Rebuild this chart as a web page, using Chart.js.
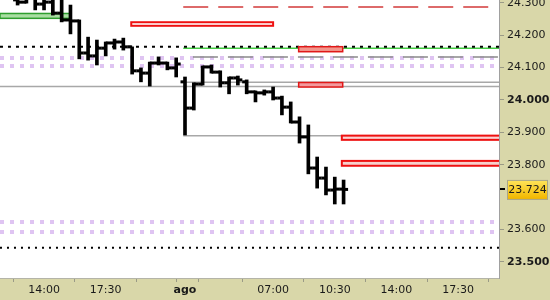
<!DOCTYPE html>
<html>
<head>
<meta charset="utf-8">
<script src="https://cdn.jsdelivr.net/npm/chart.js@4.4.1/dist/chart.umd.min.js"></script>
<style>
  html, body { margin: 0; padding: 0; background: #d9d7a9; }
  #wrap { width: 550px; height: 300px; }
</style>
</head>
<body>
<div id="wrap"><canvas id="chart" width="550" height="300"></canvas></div>
<script>
// barras de 30 minutos, indice 0 = primera barra visible
const opens  = [24.309, 24.302, 24.315, 24.296, 24.302, 24.268, 24.247, 24.244, 24.145, 24.136,
                24.160, 24.176, 24.179, 24.164, 24.090, 24.083, 24.114, 24.114, 24.099, 24.056,
                23.975, 24.049, 24.102, 24.086, 24.053, 24.068, 24.056, 24.025, 24.022, 24.025,
                24.006, 23.978, 23.932, 23.886, 23.790, 23.759, 23.722, 23.725];
const highs  = [24.327, 24.333, 24.321, 24.315, 24.312, 24.312, 24.293, 24.247, 24.194, 24.185,
                24.179, 24.188, 24.191, 24.164, 24.099, 24.117, 24.133, 24.117, 24.130, 24.071,
                24.053, 24.105, 24.108, 24.090, 24.071, 24.074, 24.062, 24.028, 24.031, 24.040,
                24.012, 23.994, 23.948, 23.923, 23.824, 23.793, 23.762, 23.753];
const lows   = [24.293, 24.299, 24.278, 24.278, 24.262, 24.241, 24.204, 24.127, 24.123, 24.108,
                24.136, 24.157, 24.154, 24.080, 24.056, 24.043, 24.108, 24.093, 24.071, 23.892,
                23.969, 24.046, 24.083, 24.040, 24.019, 24.046, 24.019, 23.994, 24.015, 24.000,
                23.954, 23.929, 23.867, 23.772, 23.728, 23.707, 23.679, 23.679];
const closes = [24.302, 24.315, 24.296, 24.302, 24.268, 24.247, 24.244, 24.145, 24.136, 24.160,
                24.176, 24.179, 24.164, 24.090, 24.083, 24.114, 24.114, 24.099, 24.111, 23.975,
                24.049, 24.102, 24.086, 24.053, 24.068, 24.062, 24.025, 24.022, 24.025, 24.006,
                23.978, 23.932, 23.886, 23.790, 23.759, 23.722, 23.725, 23.724];

const xTickIdx    = [3, 10, 17, 19, 22, 29, 36, 43, 50];
const xTickLabels = ['14:00', '17:30', '', 'ago', '', '07:00', '10:30', '14:00', '17:30'];
const yTicks = [23.5, 23.6, 23.8, 23.9, 24.0, 24.1, 24.2, 24.3];
const yBold  = [23.5, 24.0];
const lastPrice = 23.724;

// zonas (rectangulos): techo, suelo, desde barra, hasta barra
const zoneTops    = [24.267, 24.240, 24.1645, 24.054, 23.890, 23.812];
const zoneBottoms = [24.252, 24.229, 24.149,  24.040, 23.877, 23.797];
const zoneFrom    = [-2, 12.9, 31.9, 31.9, 36.8, 36.8];
const zoneTo      = [6, 29, 36.9, 36.9, 60, 60];

// lineas horizontales
const lineLevels = [24.287, 24.160, 24.133, 24.055, 24.042, 23.890, 23.810, 24.1645, 23.544];
const lineFrom   = [18.8, 18.8, 19.9, 18.8, -2, 18.8, 36.8, -2, -2];
const lineTo     = [53.5, 60, 60, 60, 60, 60, 60, 60, 60];

// filas de puntos lila
const lilacLevels = [24.130, 24.105, 23.624, 23.593];

// estilos (no son datos)
const zoneFill   = ['#a9dea2', '#ffffff', '#f2968c', '#f29a9e', '#fcd4d4', '#f6d0cc'];
const zoneStroke = ['#2e9e2e', '#ee1111', '#e01818', '#e01818', '#ee1111', '#ee1111'];
const zoneWidth  = [1.5, 2, 1.5, 1.5, 2, 2];
const lineStyle = [
  { color: '#d23a3a', width: 1.5, dash: [25, 10] },
  { color: '#44cc44', width: 1.5, dash: [] },
  { color: '#8a8a8a', width: 1.5, dash: [25, 10] },
  { color: '#a8a8a8', width: 1.5, dash: [] },
  { color: '#a8a8a8', width: 1.5, dash: [] },
  { color: '#a8a8a8', width: 1.5, dash: [] },
  { color: '#66c266', width: 1.5, dash: [] },
  { color: '#000000', width: 2, dash: [3, 5] },
  { color: '#000000', width: 2, dash: [2, 5] }
];

const FONT = 'DejaVu Sans';

const levelsPlugin = {
  id: 'levels',
  beforeDraw(chart) {
    const { ctx, chartArea: a } = chart;
    ctx.save();
    ctx.fillStyle = '#d9d7a9';
    ctx.fillRect(0, 0, chart.width, chart.height);
    ctx.fillStyle = '#ffffff';
    ctx.fillRect(a.left, a.top, a.right - a.left, a.bottom - a.top);
    ctx.restore();
  },
  beforeDatasetsDraw(chart) {
    const { ctx, chartArea: a, scales: { x, y } } = chart;
    ctx.save();
    ctx.beginPath();
    ctx.rect(a.left, a.top, a.right - a.left, a.bottom - a.top);
    ctx.clip();

    // puntos lila
    ctx.strokeStyle = '#dfc4f2';
    ctx.lineWidth = 4;
    ctx.setLineDash([4, 6]);
    lilacLevels.forEach(v => {
      const py = Math.round(y.getPixelForValue(v));
      ctx.beginPath();
      ctx.moveTo(a.left, py);
      ctx.lineTo(a.right, py);
      ctx.stroke();
    });

    // lineas
    lineLevels.forEach((v, i) => {
      const s = lineStyle[i];
      const py = y.getPixelForValue(v);
      ctx.strokeStyle = s.color;
      ctx.lineWidth = s.width;
      ctx.setLineDash(s.dash);
      ctx.beginPath();
      ctx.moveTo(x.getPixelForValue(lineFrom[i]), py);
      ctx.lineTo(x.getPixelForValue(lineTo[i]), py);
      ctx.stroke();
    });

    // zonas
    ctx.setLineDash([]);
    zoneTops.forEach((v, i) => {
      const x0 = x.getPixelForValue(zoneFrom[i]);
      const x1 = x.getPixelForValue(zoneTo[i]);
      const y0 = y.getPixelForValue(v);
      const y1 = y.getPixelForValue(zoneBottoms[i]);
      ctx.fillStyle = zoneFill[i];
      ctx.fillRect(x0, y0, x1 - x0, y1 - y0);
      ctx.strokeStyle = zoneStroke[i];
      ctx.lineWidth = zoneWidth[i];
      ctx.strokeRect(x0, y0, x1 - x0, y1 - y0);
    });
    ctx.restore();
  },
  afterDatasetsDraw(chart) {
    // ticks de apertura (izq) y cierre (der)
    const { ctx, chartArea: a, scales: { x, y } } = chart;
    ctx.save();
    ctx.beginPath();
    ctx.rect(a.left, a.top, a.right - a.left, a.bottom - a.top);
    ctx.clip();
    ctx.fillStyle = '#000000';
    opens.forEach((o, i) => {
      const px = x.getPixelForValue(i);
      ctx.fillRect(px - 4.5, y.getPixelForValue(o) - 1.5, 4.5, 3);
      ctx.fillRect(px, y.getPixelForValue(closes[i]) - 1.5, 4.5, 3);
    });
    ctx.restore();
  },
  afterDraw(chart) {
    // etiqueta del ultimo precio
    const { ctx, chartArea: a, scales: { y } } = chart;
    const py = y.getPixelForValue(lastPrice);
    ctx.save();
    ctx.fillStyle = '#000000';
    ctx.fillRect(a.right + 1, Math.round(py) - 1, 5, 2);
    const g = ctx.createLinearGradient(0, py - 9, 0, py + 9);
    g.addColorStop(0, '#ffe45a');
    g.addColorStop(1, '#f2b800');
    ctx.fillStyle = g;
    ctx.fillRect(a.right + 8.5, py - 9, 40, 19);
    ctx.strokeStyle = '#a8a68a';
    ctx.lineWidth = 1;
    ctx.strokeRect(a.right + 8.5, py - 9, 40, 19);
    ctx.fillStyle = '#1a1a1a';
    ctx.font = '11px "' + FONT + '"';
    ctx.textAlign = 'center';
    ctx.textBaseline = 'middle';
    ctx.fillText(lastPrice.toFixed(3), a.right + 28.5, py + 0.5);
    ctx.restore();
  }
};

Chart.defaults.color = '#1a1a1a';
Chart.defaults.font.family = FONT;
Chart.defaults.font.size = 11;

new Chart(document.getElementById('chart'), {
  type: 'bar',
  data: {
    datasets: [{
      data: highs.map((h, i) => ({ x: i, y: [lows[i], h] })),
      backgroundColor: '#000000',
      borderWidth: 0,
      barThickness: 3,
      grouped: false
    }]
  },
  options: {
    responsive: false,
    animation: false,
    devicePixelRatio: 1,
    layout: { padding: 0 },
    plugins: { legend: { display: false }, tooltip: { enabled: false } },
    scales: {
      x: {
        type: 'linear',
        offset: false,
        min: -1.998,
        max: 54.64,
        afterBuildTicks: s => { s.ticks = xTickIdx.map(v => ({ value: v })); },
        afterFit: s => { s.height = 22; s.paddingLeft = 0; s.paddingRight = 0; },
        grid: { drawOnChartArea: false, tickLength: 4, color: '#9a9a86' },
        border: { color: '#b4b4a8' },
        ticks: {
          autoSkip: false,
          maxRotation: 0,
          padding: 2,
          callback: v => xTickLabels[xTickIdx.indexOf(v)],
          font: c => ({ family: FONT, size: 11, weight: c.tick && c.tick.value === 19 ? 'bold' : 'normal' })
        }
      },
      y: {
        position: 'right',
        min: 23.4506,
        max: 24.3086,
        afterBuildTicks: s => { s.ticks = yTicks.map(v => ({ value: v })); },
        afterFit: s => { s.width = 51; s.paddingTop = 0; s.paddingBottom = 0; },
        grid: { drawOnChartArea: false, tickLength: 5, color: '#9a9a86' },
        border: { color: '#a0a0a0' },
        ticks: {
          padding: 3,
          callback: v => v.toFixed(3),
          font: c => ({ family: FONT, size: 11, weight: c.tick && yBold.includes(c.tick.value) ? 'bold' : 'normal' })
        }
      }
    }
  },
  plugins: [levelsPlugin]
});
</script>
</body>
</html>
